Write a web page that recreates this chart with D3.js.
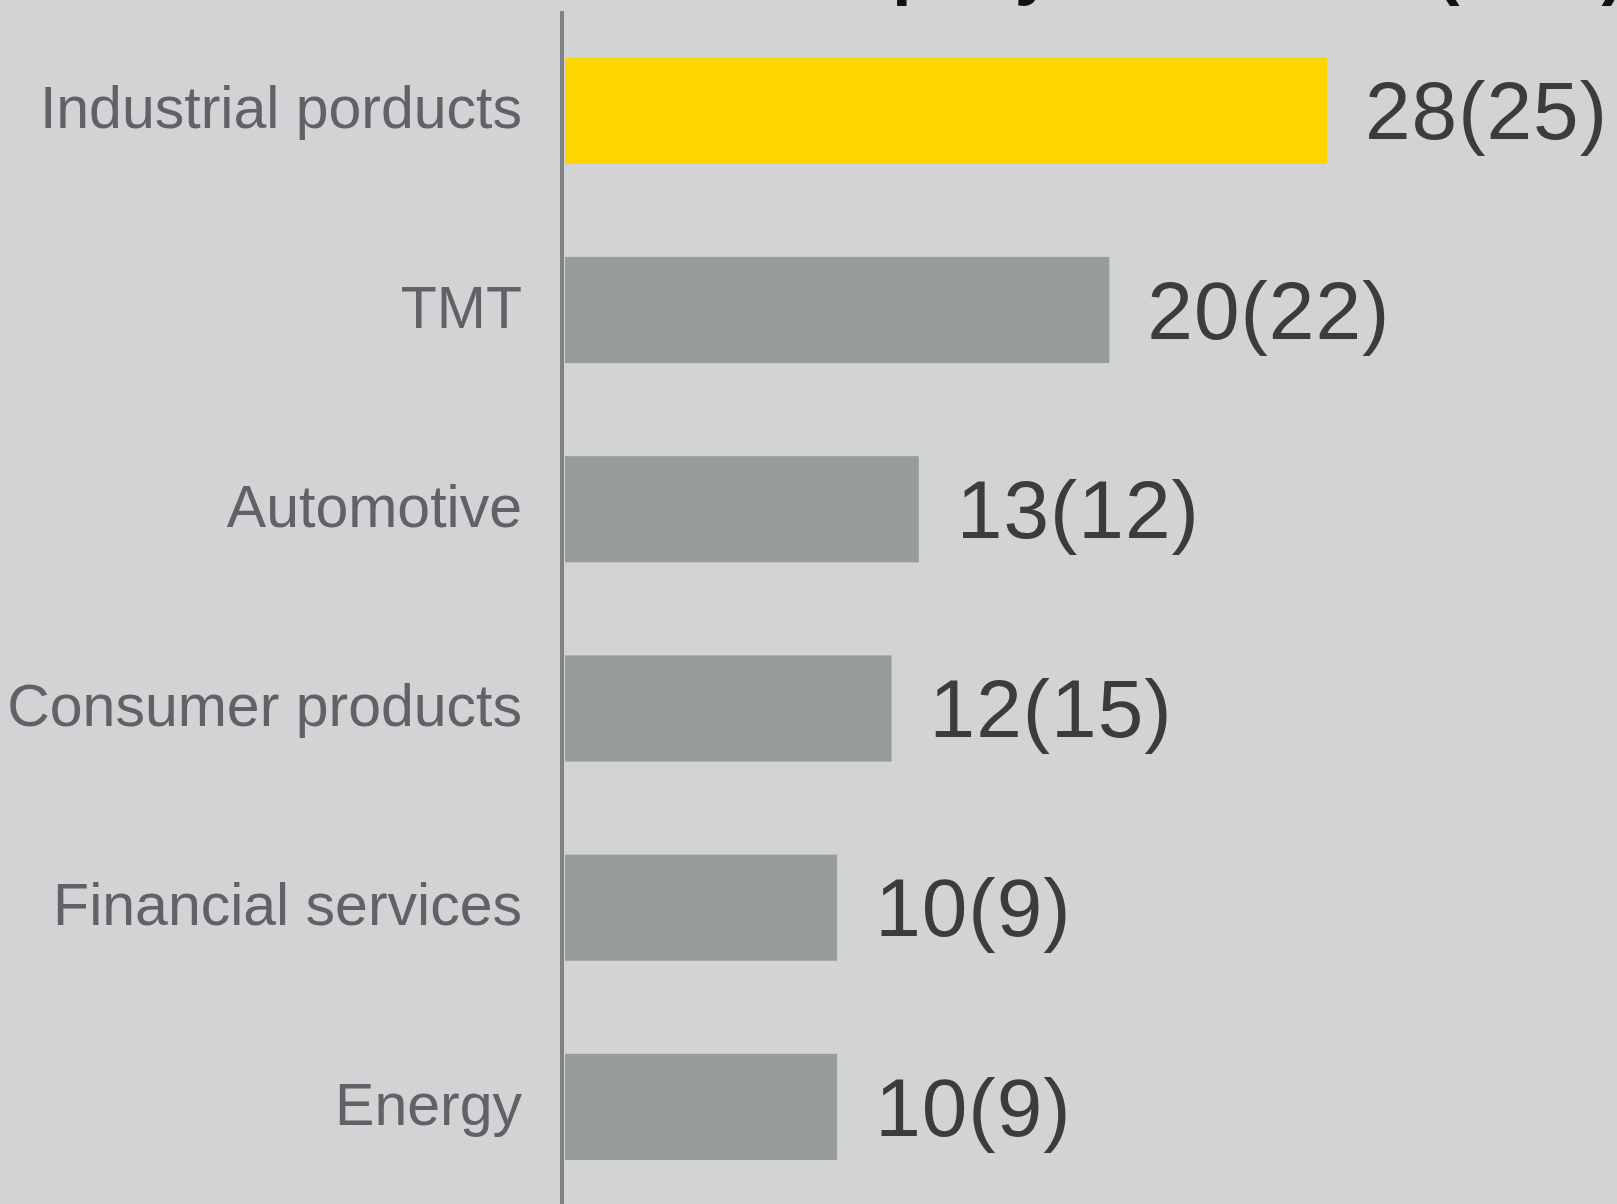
<!DOCTYPE html>
<html>
<head>
<meta charset="utf-8">
<script src="https://cdn.jsdelivr.net/npm/d3@7"></script>
<style>
  html, body { margin: 0; padding: 0; background: #d2d3d5; overflow: hidden; }
  svg { display: block; }
</style>
</head>
<body>
<svg id="chart" width="1617" height="1204"></svg>
<script>
// Sector shares: current value with previous year in brackets
const categories = ["Industrial porducts", "TMT", "Automotive", "Consumer products", "Financial services", "Energy"];
const currentValues = [28, 20, 13, 12, 10, 10];
const previousValues = [25, 22, 12, 15, 9, 9];
const highlighted = ["Industrial porducts"];
const titleText = "Share of company deal count (in %)";

const width = 1617, height = 1204;
const axisX = 562;
const barLeft = 565;

const svg = d3.select("#chart");

svg.append("rect")
  .attr("width", width).attr("height", height)
  .attr("fill", "#d2d3d5");

// Title sits above the frame; only the lower part of its glyphs is visible
const titleSize = 69;
const title = svg.append("text")
  .attr("x", 0)
  .attr("y", -8.5)
  .attr("font-family", "Liberation Sans, Arial, sans-serif")
  .attr("font-weight", "bold")
  .attr("font-size", titleSize)
  .attr("fill", "#111")
  .text(titleText);
{
  const node = title.node();
  const lead = node.getSubStringLength(0, titleText.indexOf("company") + 3);
  title.attr("x", 897 - 0.07 * titleSize - lead);
}

const x = d3.scaleLinear()
  .domain([0, d3.max(currentValues)])
  .range([barLeft, 1327]);

const y = d3.scaleBand()
  .domain(categories)
  .range([57.7, 1160])
  .paddingInner(0.467)
  .paddingOuter(0);

const rows = categories.map((c, i) => ({
  category: c,
  value: currentValues[i],
  previous: previousValues[i]
}));

// Bars
svg.append("g")
  .selectAll("rect")
  .data(rows)
  .join("rect")
  .attr("x", x(0))
  .attr("y", d => y(d.category))
  .attr("width", d => x(d.value) - x(0))
  .attr("height", y.bandwidth())
  .attr("fill", d => highlighted.includes(d.category) ? "#ffd500" : "#999c9d");

// Category axis on the left
const axis = d3.axisLeft(y).tickSize(0).tickPadding(40);
const axisG = svg.append("g")
  .attr("transform", `translate(${axisX},0)`)
  .call(axis);
axisG.select(".domain").remove();
axisG.selectAll("text")
  .attr("font-family", "Liberation Sans, Arial, sans-serif")
  .attr("font-size", 59)
  .attr("fill", "#606265")
  .attr("dy", "0.30em");

// Vertical baseline
svg.append("line")
  .attr("x1", axisX).attr("x2", axisX)
  .attr("y1", 11).attr("y2", height)
  .attr("stroke", "#808283")
  .attr("stroke-width", 4);

// Value labels
svg.append("g")
  .selectAll("text")
  .data(rows)
  .join("text")
  .attr("x", d => x(d.value) + 38)
  .attr("y", d => y(d.category) + y.bandwidth() / 2)
  .attr("dy", "0.35em")
  .attr("font-family", "Liberation Sans, Arial, sans-serif")
  .attr("font-size", 82)
  .attr("letter-spacing", 1)
  .attr("fill", "#3b3c3e")
  .text(d => `${d.value}(${d.previous})`);
</script>
</body>
</html>
